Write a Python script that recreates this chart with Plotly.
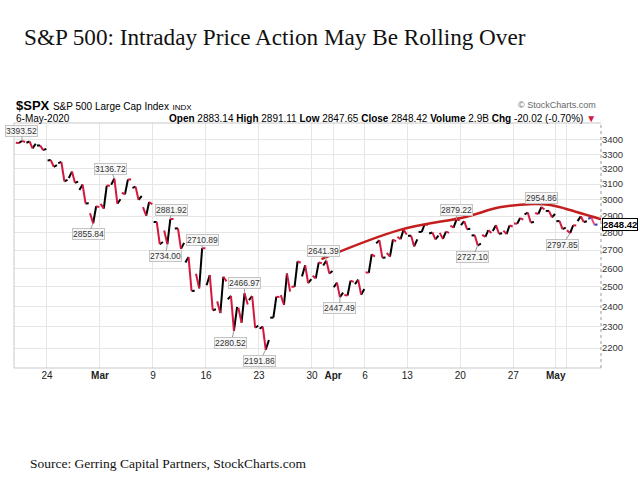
import math
import plotly.graph_objects as go

# ---------------- data ----------------
dates = ["2020-02-19", "2020-02-20", "2020-02-21", "2020-02-24", "2020-02-25", "2020-02-26", "2020-02-27",
         "2020-02-28", "2020-03-02", "2020-03-03", "2020-03-04", "2020-03-05", "2020-03-06", "2020-03-09",
         "2020-03-10", "2020-03-11", "2020-03-12", "2020-03-13", "2020-03-16", "2020-03-17", "2020-03-18",
         "2020-03-19", "2020-03-20", "2020-03-23", "2020-03-24", "2020-03-25", "2020-03-26", "2020-03-27",
         "2020-03-30", "2020-03-31", "2020-04-01", "2020-04-02", "2020-04-03", "2020-04-06", "2020-04-07",
         "2020-04-08", "2020-04-09", "2020-04-13", "2020-04-14", "2020-04-15", "2020-04-16", "2020-04-17",
         "2020-04-20", "2020-04-21", "2020-04-22", "2020-04-23", "2020-04-24", "2020-04-27", "2020-04-28",
         "2020-04-29", "2020-04-30", "2020-05-01", "2020-05-04", "2020-05-05", "2020-05-06"]
opens = [3380.39, 3380.45, 3360.50, 3257.61, 3238.94, 3139.90, 3062.54, 2916.90, 2974.28, 3096.46, 3045.75,
         3075.70, 2954.20, 2863.89, 2813.48, 2825.60, 2630.86, 2569.99, 2508.59, 2425.66, 2436.50, 2393.48,
         2431.94, 2290.71, 2344.44, 2457.77, 2501.29, 2555.87, 2558.98, 2614.69, 2498.08, 2458.54, 2514.92,
         2578.28, 2738.65, 2685.00, 2776.99, 2782.46, 2805.10, 2795.64, 2799.34, 2842.43, 2845.62, 2784.81,
         2787.89, 2810.42, 2812.64, 2854.65, 2909.96, 2918.46, 2930.91, 2869.09, 2815.01, 2868.88, 2883.14]
highs = [3393.52, 3389.15, 3360.76, 3259.81, 3246.99, 3182.51, 3097.07, 2959.72, 3090.96, 3136.72, 3130.97,
         3083.04, 2985.93, 2863.89, 2882.59, 2825.60, 2660.95, 2711.33, 2562.98, 2553.93, 2453.57, 2466.97,
         2453.01, 2300.73, 2449.71, 2571.42, 2637.01, 2615.91, 2631.80, 2641.39, 2522.75, 2533.22, 2538.18,
         2676.85, 2756.89, 2760.75, 2818.57, 2782.46, 2851.85, 2801.88, 2806.51, 2879.22, 2868.98, 2785.54,
         2815.10, 2844.90, 2842.71, 2887.72, 2921.15, 2954.86, 2930.91, 2869.09, 2844.24, 2898.23, 2891.11]
lows = [3378.83, 3341.02, 3328.45, 3214.65, 3118.77, 3108.99, 2977.39, 2855.84, 2945.19, 2976.63, 3034.38,
        2999.83, 2901.54, 2734.43, 2734.00, 2707.22, 2478.86, 2492.37, 2380.94, 2367.04, 2280.52, 2319.78,
        2295.56, 2191.86, 2344.44, 2407.53, 2500.72, 2520.02, 2545.28, 2571.15, 2447.49, 2455.79, 2459.96,
        2574.57, 2657.67, 2663.30, 2762.36, 2721.17, 2805.10, 2761.54, 2764.32, 2830.88, 2820.43, 2727.10,
        2775.95, 2794.26, 2791.76, 2852.89, 2860.71, 2912.16, 2892.47, 2821.61, 2797.85, 2863.55, 2847.65]
closes = [3386.15, 3373.23, 3337.75, 3225.89, 3128.21, 3116.39, 2978.76, 2954.22, 3090.23, 3003.37, 3130.12,
          3023.94, 2972.37, 2746.56, 2882.23, 2741.38, 2480.64, 2711.02, 2386.13, 2529.19, 2398.10, 2409.39,
          2304.92, 2237.40, 2447.33, 2475.56, 2630.07, 2541.47, 2626.65, 2584.59, 2470.50, 2526.90, 2488.65,
          2663.68, 2659.41, 2749.98, 2789.82, 2761.63, 2846.06, 2783.36, 2799.55, 2874.56, 2823.16, 2736.56,
          2799.31, 2797.80, 2836.74, 2878.48, 2863.39, 2939.51, 2912.43, 2830.71, 2842.74, 2868.44, 2848.42]

x_tick_dates = ["2020-02-24", "2020-03-02", "2020-03-09", "2020-03-16", "2020-03-23", "2020-03-30",
                "2020-04-01", "2020-04-06", "2020-04-13", "2020-04-20", "2020-04-27", "2020-05-01", "2020-05-04"]
x_tick_text = ["24", "<b>Mar</b>", "9", "16", "23", "30", "<b>Apr</b>", "6", "13", "20", "27", "<b>May</b>", ""]
y_ticks = [2200, 2300, 2400, 2500, 2600, 2700, 2800, 2900, 3000, 3100, 3200, 3300, 3400]

label_texts = ["3393.52", "3136.72", "2855.84", "2881.92", "2734.00", "2710.89", "2466.97", "2280.52",
               "2191.86", "2641.39", "2447.49", "2879.22", "2727.10", "2954.86", "2797.85"]
label_dates = ["2020-02-19", "2020-03-03", "2020-02-28", "2020-03-10", "2020-03-10", "2020-03-13", "2020-03-19",
               "2020-03-18", "2020-03-23", "2020-03-31", "2020-04-01", "2020-04-17", "2020-04-21", "2020-04-29",
               "2020-05-04"]
label_kind = ["H", "H", "L", "H", "L", "H", "H", "L", "L", "H", "L", "H", "L", "H", "L"]

# hand-drawn arc (trading-day position, price)
arc_pos = [28.9, 36.3, 42.6, 45.7, 48.9, 50.5, 52.0, 55.3]
arc_price = [2650, 2817, 2896, 2953, 2974, 2968, 2943, 2880]

# ---------------- style ----------------
label_offsets = [(0, -10), (-4, -10), (-5, 11), (1, -9), (-2, 12), (0, -8), (0, -10), (-3, 12),
                 (-6, 11), (-3, -10), (0, 11), (0, -9), (-5, 12), (0, -9), (-8, 12)]
UP, DN = "#000000", "#d4173f"
UP_LAST, DN_LAST = "#3535c8", "#e8507a"
SANS = "Liberation Sans, Arial, sans-serif"
SERIF = "Liberation Serif, Times New Roman, serif"
W, H = 640, 480
L, R, T, B = 14, 601, 123, 368
POS = [0.06, 0.36, 0.64, 0.94]

day_index = {d: i for i, d in enumerate(dates)}


def day_path(i):
    o, h, l, c = opens[i], highs[i], lows[i], closes[i]
    return [o, l, h, c] if c >= o else [o, h, l, c]


segs = {UP: ([], []), DN: ([], []), UP_LAST: ([], []), DN_LAST: ([], [])}
last = len(dates) - 1
for i in range(len(dates)):
    p = day_path(i)
    for k in range(3):
        up = p[k + 1] >= p[k]
        if i == last:
            col = UP_LAST if up else DN_LAST
        else:
            col = UP if up else DN
        xs, ys = segs[col]
        xs += [i + POS[k], i + POS[k + 1], None]
        ys += [p[k], p[k + 1], None]

fig = go.Figure()
for col, (xs, ys) in segs.items():
    fig.add_trace(go.Scatter(x=xs, y=ys, mode="lines", line=dict(color=col, width=2),
                             hoverinfo="skip", showlegend=False))

fig.add_trace(go.Scatter(x=arc_pos, y=arc_price, mode="lines",
                         line=dict(color="#c41e1e", width=2.5, shape="spline", smoothing=1.0),
                         hoverinfo="skip", showlegend=False))

annotations = []
for txt, d, kind, (ax, ay) in zip(label_texts, label_dates, label_kind, label_offsets):
    i = day_index[d]
    p = day_path(i)
    target = highs[i] if kind == "H" else lows[i]
    k = p.index(target)
    annotations.append(dict(
        x=i + POS[k], y=math.log10(float(txt)), xref="x", yref="y",
        text=txt, showarrow=True, arrowhead=0, arrowwidth=1, arrowcolor="#999999",
        ax=ax, ay=ay, standoff=0,
        font=dict(family=SANS, size=8.5, color="#333333"),
        bgcolor="#f7f7f7", bordercolor="#c4c4c4", borderwidth=1, borderpad=0,
    ))


def px(xp):
    return (xp - L) / (R - L)


def py(yp):
    return (B - yp) / (B - T)


# last price flag on the right axis
annotations.append(dict(
    x=px(638), y=math.log10(closes[-1]), xref="paper", yref="y", xanchor="right",
    text="<b>%.2f</b>" % closes[-1], showarrow=False,
    font=dict(family=SANS, size=9.5, color="#000000"),
    bgcolor="#ffffff", bordercolor="#000000", borderwidth=1, borderpad=0,
))

chg = closes[-1] - closes[-2]
pct = chg / closes[-2] * 100
header = ("<b>Open</b> %.2f <b>High</b> %.2f <b>Low</b> %.2f <b>Close</b> %.2f <b>Volume</b> 2.9B "
          "<b>Chg</b> %.2f (%.2f%%) <span style='color:#d4173f'>▼</span>"
          % (opens[-1], highs[-1], lows[-1], closes[-1], chg, pct))

annotations += [
    dict(x=px(14), y=py(105), xref="paper", yref="paper", xanchor="left", yanchor="middle", showarrow=False,
         text="<b>$SPX</b> <span style='font-size:10px'>S&P 500 Large Cap Index</span> "
              "<span style='font-size:8px'>INDX</span>",
         font=dict(family=SANS, size=13, color="#000000")),
    dict(x=px(14), y=py(118), xref="paper", yref="paper", xanchor="left", yanchor="middle", showarrow=False,
         text="6-May-2020", font=dict(family=SANS, size=10, color="#000000")),
    dict(x=px(598), y=py(118), xref="paper", yref="paper", xanchor="right", yanchor="middle", showarrow=False,
         text=header, font=dict(family=SANS, size=10, color="#000000")),
    dict(x=px(598), y=py(105), xref="paper", yref="paper", xanchor="right", yanchor="middle", showarrow=False,
         text="© StockCharts.com", font=dict(family=SANS, size=9, color="#666666")),
    dict(x=px(22), y=py(37), xref="paper", yref="paper", xanchor="left", yanchor="middle",
         showarrow=False, text="S&P 500: Intraday Price Action May Be Rolling Over",
         font=dict(family=SERIF, size=23.2, color="#111111")),
    dict(x=px(28), y=py(463), xref="paper", yref="paper", xanchor="left", yanchor="middle",
         showarrow=False, text="Source: Gerring Capital Partners, StockCharts.com",
         font=dict(family=SERIF, size=13.5, color="#111111")),
]

shapes = [
    dict(type="line", xref="paper", yref="paper", x0=0, x1=0, y0=0, y1=1, line=dict(color="#c8c8c8", width=1)),
    dict(type="line", xref="paper", yref="paper", x0=0, x1=1, y0=1, y1=1, line=dict(color="#c8c8c8", width=1)),
    dict(type="line", xref="paper", yref="paper", x0=0, x1=1, y0=0, y1=0, line=dict(color="#c8c8c8", width=1)),
    dict(type="line", xref="paper", yref="paper", x0=1, x1=1, y0=0, y1=1,
         line=dict(color="#9a9a9a", width=1, dash="dot")),
]

fig.update_layout(
    width=W, height=H,
    margin=dict(l=L, r=W - R, t=T, b=H - B),
    paper_bgcolor="#ffffff", plot_bgcolor="#ffffff",
    showlegend=False,
    annotations=annotations,
    shapes=shapes,
    xaxis=dict(range=[-0.11, 55.27], tickvals=[day_index[d] for d in x_tick_dates], ticktext=x_tick_text,
               showgrid=True, gridcolor="#e6e6e6", gridwidth=1, zeroline=False, showline=False, ticks="",
               tickfont=dict(family=SANS, size=10, color="#222222")),
    yaxis=dict(type="log", range=[math.log10(2110), math.log10(3523)], side="right",
               tickvals=y_ticks, ticktext=[str(v) for v in y_ticks],
               showgrid=True, gridcolor="#e6e6e6", gridwidth=1, zeroline=False, showline=False, ticks="",
               tickfont=dict(family=SANS, size=9.5, color="#333333")),
)

fig.write_html("out.html", config={"displayModeBar": False},
               post_script="document.body.style.margin='0px';document.body.style.overflow='hidden';")
